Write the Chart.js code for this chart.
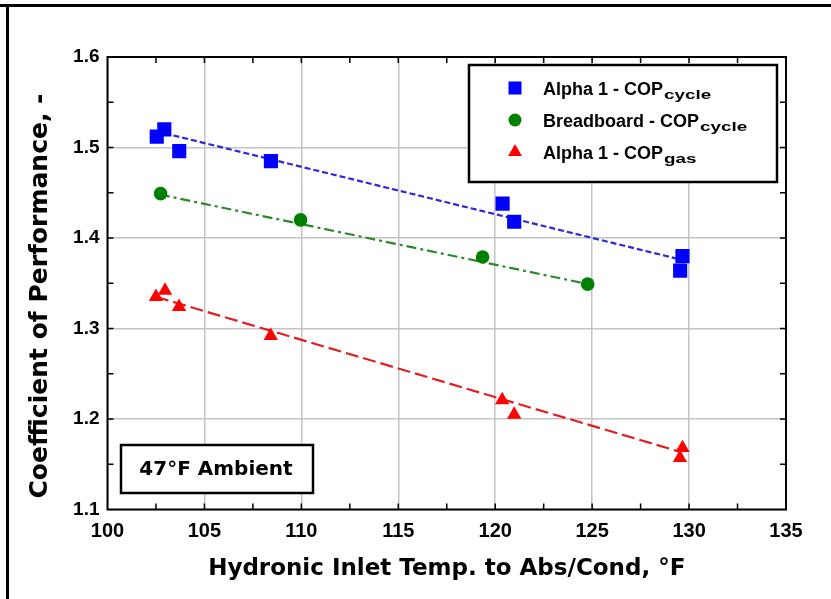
<!DOCTYPE html>
<html>
<head>
<meta charset="utf-8">
<script src="https://cdn.jsdelivr.net/npm/chart.js@4.4.0/dist/chart.umd.min.js"></script>
<style>
  html, body { margin: 0; padding: 0; background: #fff; }
  #wrap { width: 831px; height: 599px; }
</style>
</head>
<body>
<div id="wrap"><canvas id="copChart" width="831" height="599"></canvas></div>
<script>
// =====================
//  DATA
// =====================
const ALPHA_CYCLE_X = [102.54, 102.93, 103.70, 108.43, 120.38, 120.98, 129.66, 129.54];
const ALPHA_CYCLE_Y = [1.512, 1.520, 1.496, 1.485, 1.438, 1.418, 1.380, 1.364];

const BREAD_CYCLE_X = [102.74, 109.96, 119.35, 124.77];
const BREAD_CYCLE_Y = [1.449, 1.420, 1.379, 1.349];

const ALPHA_GAS_X = [102.50, 102.97, 103.69, 108.42, 120.36, 120.98, 129.66, 129.53];
const ALPHA_GAS_Y = [1.335, 1.342, 1.324, 1.292, 1.221, 1.205, 1.168, 1.157];

// fitted trend lines (end points)
const ALPHA_CYCLE_FIT_X = [102.5, 129.6];
const ALPHA_CYCLE_FIT_Y = [1.518, 1.376];
const BREAD_CYCLE_FIT_X = [102.7, 124.8];
const BREAD_CYCLE_FIT_Y = [1.448, 1.349];
const ALPHA_GAS_FIT_X = [102.5, 129.5];
const ALPHA_GAS_FIT_Y = [1.335, 1.164];

const LEGEND_ITEMS = [
    { main: "Alpha 1 - COP", sub: "cycle", style: "rect", color: "#0000ff" },
    { main: "Breadboard - COP", sub: "cycle", style: "circle", color: "#008000" },
    { main: "Alpha 1 - COP", sub: "gas", style: "triangle", color: "#ff0000" }
];
const NOTE_TEXT = "47°F Ambient";
const X_TITLE = "Hydronic Inlet Temp. to Abs/Cond, °F";
const Y_TITLE = "Coefficient of Performance, -";

const WIDE = "'DejaVu Sans', sans-serif";
const ARIAL = "'Liberation Sans', Arial, sans-serif";

function toPoints(xs, ys) {
    return xs.map((x, i) => ({ x: x, y: ys[i] }));
}

// =====================
//  HELPERS
// =====================
function drawMarker(ctx, style, x, y, color) {
    ctx.fillStyle = color;
    ctx.beginPath();
    if (style === "rect") {
        ctx.rect(x - 6.5, y - 6.5, 13, 13);
    } else if (style === "circle") {
        ctx.arc(x, y, 6.5, 0, Math.PI * 2);
    } else {
        const r = 8;
        ctx.moveTo(x, y - r);
        ctx.lineTo(x + r * 0.866, y + r / 2);
        ctx.lineTo(x - r * 0.866, y + r / 2);
        ctx.closePath();
    }
    ctx.fill();
}

// main text + stretched subscript
function drawSubText(ctx, main, sub, x, baseline) {
    ctx.fillStyle = "#000";
    ctx.textAlign = "left";
    ctx.textBaseline = "alphabetic";
    ctx.font = "bold 18px " + ARIAL;
    ctx.fillText(main, x, baseline);
    const w = ctx.measureText(main).width;
    ctx.save();
    ctx.translate(x + w + 1, baseline + 4);
    ctx.scale(1.45, 1);
    ctx.font = "bold 13px " + ARIAL;
    ctx.fillText(sub, 0, 0);
    ctx.restore();
}

// =====================
//  DECORATION PLUGIN
// =====================
const framePlugin = {
    id: "frame",
    afterDraw(chart) {
        const ctx = chart.ctx;
        const area = chart.chartArea;
        const xs = chart.scales.x;
        const ys = chart.scales.y;
        ctx.save();

        // plot box
        ctx.strokeStyle = "#000";
        ctx.lineWidth = 2;
        ctx.strokeRect(area.left, area.top, area.right - area.left, area.bottom - area.top);

        // inward ticks (major + minor)
        ctx.lineWidth = 1.5;
        ctx.beginPath();
        for (let v = 102.5; v < 135; v += 2.5) {
            const px = xs.getPixelForValue(v);
            ctx.moveTo(px, area.bottom);
            ctx.lineTo(px, area.bottom - 6);
            ctx.moveTo(px, area.top);
            ctx.lineTo(px, area.top + 6);
        }
        for (let k = 1; k < 10; k++) {
            const py = ys.getPixelForValue(1.1 + k * 0.05);
            ctx.moveTo(area.left, py);
            ctx.lineTo(area.left + 6, py);
            ctx.moveTo(area.right, py);
            ctx.lineTo(area.right - 6, py);
        }
        ctx.stroke();

        // legend box
        ctx.fillStyle = "#fff";
        ctx.fillRect(469, 65, 308, 117);
        ctx.lineWidth = 2.5;
        ctx.strokeRect(469, 65, 308, 117);
        LEGEND_ITEMS.forEach((item, i) => {
            const cy = 88 + i * 32;
            drawMarker(ctx, item.style, 515, cy, item.color);
            drawSubText(ctx, item.main, item.sub, 543, cy + 6.5);
        });

        // ambient note box
        ctx.fillStyle = "#fff";
        ctx.fillRect(121, 445, 192, 48);
        ctx.strokeStyle = "#000";
        ctx.lineWidth = 2.5;
        ctx.strokeRect(121, 445, 192, 48);
        ctx.fillStyle = "#000";
        ctx.font = "bold 20px " + WIDE;
        ctx.textAlign = "center";
        ctx.textBaseline = "middle";
        ctx.fillText(NOTE_TEXT, 216, 470);

        // y axis title
        ctx.save();
        ctx.translate(40, 296);
        ctx.rotate(-Math.PI / 2);
        ctx.font = "bold 25px " + WIDE;
        ctx.fillText(Y_TITLE, 0, 0);
        ctx.restore();

        // outer figure frame
        ctx.fillStyle = "#000";
        ctx.fillRect(0, 4, chart.width, 3);
        ctx.fillRect(6, 4, 3, chart.height - 4);

        ctx.restore();
    }
};

// =====================
//  CHART
// =====================
const ctx = document.getElementById("copChart").getContext("2d");

const fitLine = (xs, ys, color, dash) => ({
    data: toPoints(xs, ys),
    showLine: true,
    borderColor: color,
    borderWidth: 2.2,
    borderDash: dash,
    pointRadius: 0,
    fill: false,
    order: 2
});

const pointSet = (xs, ys, color, style, radius) => ({
    data: toPoints(xs, ys),
    showLine: false,
    pointStyle: style,
    pointRadius: radius,
    pointBackgroundColor: color,
    pointBorderWidth: 0,
    order: 1
});

let copChart = new Chart(ctx, {
    type: "scatter",
    data: {
        datasets: [
            fitLine(ALPHA_CYCLE_FIT_X, ALPHA_CYCLE_FIT_Y, "#2a2ad8", [6, 3]),
            fitLine(BREAD_CYCLE_FIT_X, BREAD_CYCLE_FIT_Y, "#2a8a2a", [10, 4, 3, 4]),
            fitLine(ALPHA_GAS_FIT_X, ALPHA_GAS_FIT_Y, "#e02020", [13, 5]),
            pointSet(ALPHA_CYCLE_X, ALPHA_CYCLE_Y, "#0000ff", "rect", 10),
            pointSet(BREAD_CYCLE_X, BREAD_CYCLE_Y, "#008000", "circle", 6.8),
            pointSet(ALPHA_GAS_X, ALPHA_GAS_Y, "#ff0000", "triangle", 8.3)
        ]
    },
    options: {
        responsive: false,
        animation: false,
        devicePixelRatio: 1,
        layout: { padding: { left: 0, right: 45, top: 57, bottom: 0 } },
        plugins: {
            legend: { display: false },
            tooltip: { enabled: false }
        },
        scales: {
            x: {
                type: "linear",
                min: 100,
                max: 135,
                afterFit: (s) => { s.height = 89.5; },
                ticks: {
                    stepSize: 5,
                    padding: 10,
                    color: "#000",
                    font: { family: ARIAL, size: 20, weight: "bold" }
                },
                grid: { color: "#c4c4c4", lineWidth: 1.5, drawTicks: false },
                border: { display: false },
                title: {
                    display: true,
                    text: X_TITLE,
                    color: "#000",
                    padding: { top: 0, bottom: 16 },
                    font: { family: WIDE, size: 23, weight: "bold" }
                }
            },
            y: {
                type: "linear",
                min: 1.1,
                max: 1.6,
                afterFit: (s) => { s.width = 107.5; },
                ticks: {
                    stepSize: 0.1,
                    padding: 8,
                    color: "#000",
                    font: { family: ARIAL, size: 19, weight: "bold" },
                    callback: (v) => v.toFixed(1)
                },
                grid: { color: "#c4c4c4", lineWidth: 1.5, drawTicks: false },
                border: { display: false }
            }
        }
    },
    plugins: [framePlugin]
});
</script>
</body>
</html>
